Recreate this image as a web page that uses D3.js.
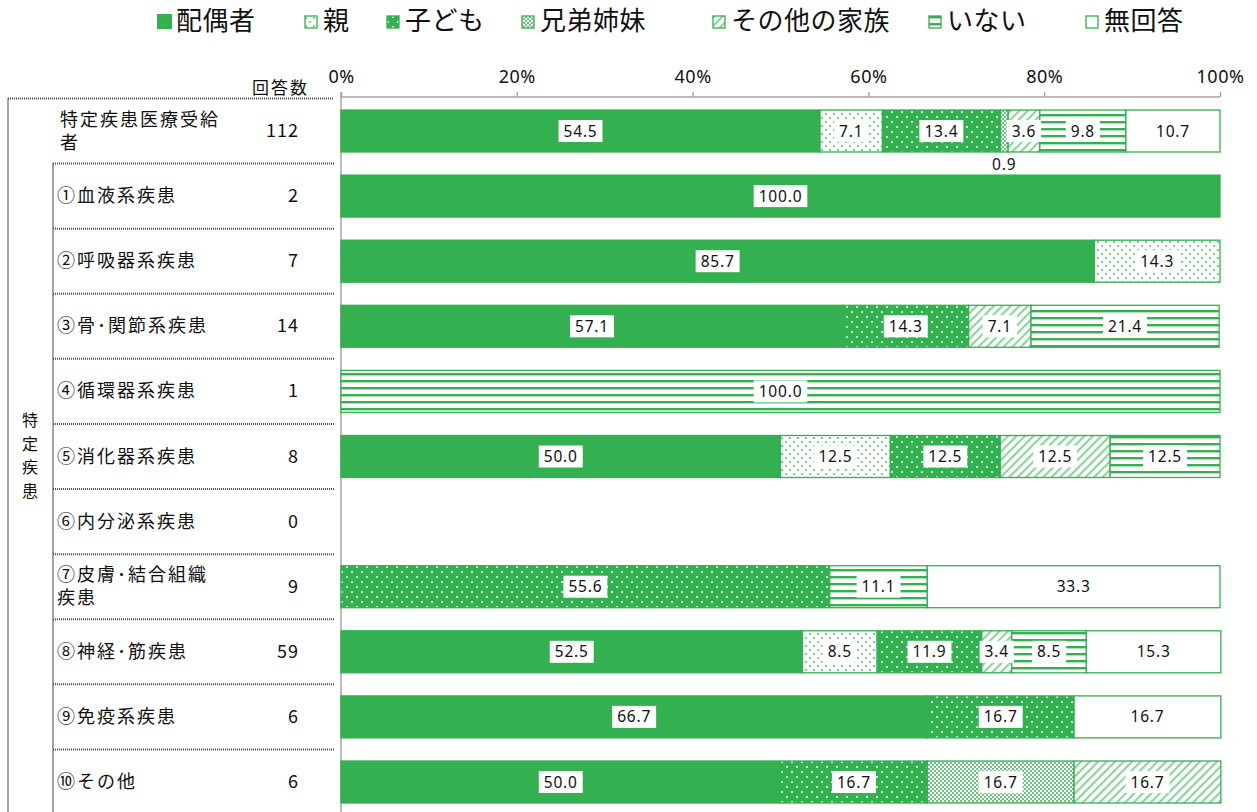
<!DOCTYPE html>
<html>
<head>
<meta charset="utf-8">
<script src="https://cdn.jsdelivr.net/npm/d3@7"></script>
<style>
  body { margin: 0; background: #ffffff; }
  svg text { font-family: "Noto Sans CJK JP", "Noto Sans", sans-serif; fill: #111; }
  .val { font-family: "Noto Sans", "DejaVu Sans", sans-serif; font-size: 15.5px; letter-spacing: 0.8px; }
  .tick-lbl { font-family: "Noto Sans", "DejaVu Sans", sans-serif; font-size: 18px; letter-spacing: 0.5px; }
</style>
</head>
<body>
<div id="chart"></div>
<script>
// カテゴリ（行）
var categories = ["特定疾患医療受給者", "①血液系疾患", "②呼吸器系疾患", "③骨・関節系疾患", "④循環器系疾患",
    "⑤消化器系疾患", "⑥内分泌系疾患", "⑦皮膚・結合組織疾患", "⑧神経・筋疾患", "⑨免疫系疾患", "⑩その他"];
// 表示用のラベル（改行つき）
var categoryLines = [["特定疾患医療受給", "者"], ["①血液系疾患"], ["②呼吸器系疾患"], ["③骨･関節系疾患"], ["④循環器系疾患"],
    ["⑤消化器系疾患"], ["⑥内分泌系疾患"], ["⑦皮膚･結合組織", "疾患"], ["⑧神経･筋疾患"], ["⑨免疫系疾患"], ["⑩その他"]];
var counts = [112, 2, 7, 14, 1, 8, 0, 9, 59, 6, 6];

var seriesNames = ["配偶者", "親", "子ども", "兄弟姉妹", "その他の家族", "いない", "無回答"];
var haigusha  = [54.5, 100.0, 85.7, 57.1, 0, 50.0, 0, 0, 52.5, 66.7, 50.0];
var oya       = [7.1, 0, 14.3, 0, 0, 12.5, 0, 0, 8.5, 0, 0];
var kodomo    = [13.4, 0, 0, 14.3, 0, 12.5, 0, 55.6, 11.9, 16.7, 16.7];
var kyodai    = [0.9, 0, 0, 0, 0, 0, 0, 0, 0, 0, 16.7];
var sonota    = [3.6, 0, 0, 7.1, 0, 12.5, 0, 0, 3.4, 0, 16.7];
var inai      = [9.8, 0, 0, 21.4, 100.0, 12.5, 0, 11.1, 8.5, 0, 0];
var mukaito   = [10.7, 0, 0, 0, 0, 0, 0, 33.3, 15.3, 16.7, 0];

var xTicks = [0, 20, 40, 60, 80, 100];
var groupLabel = "特定疾患";

var seriesData = [haigusha, oya, kodomo, kyodai, sonota, inai, mukaito];

var width = 1257, height = 812;
var green = "#33b050";

var svg = d3.select("#chart").append("svg")
    .attr("width", width)
    .attr("height", height);

// パターン定義
var defs = svg.append("defs");
function pat(id, w, h) {
    return defs.append("pattern").attr("id", id)
        .attr("patternUnits", "userSpaceOnUse")
        .attr("width", w).attr("height", h);
}
var p;
p = pat("p-oya", 8, 8);
p.append("rect").attr("width", 8).attr("height", 8).attr("fill", "#fff");
p.append("rect").attr("x", 1).attr("y", 1).attr("width", 2).attr("height", 2).attr("fill", "#7fcf92");
p.append("rect").attr("x", 5).attr("y", 5).attr("width", 2).attr("height", 2).attr("fill", "#7fcf92");

p = pat("p-kodomo", 10, 10);
p.append("rect").attr("width", 10).attr("height", 10).attr("fill", green);
p.append("rect").attr("x", 1).attr("y", 1).attr("width", 2).attr("height", 2).attr("fill", "#c9eccf");
p.append("rect").attr("x", 6).attr("y", 6).attr("width", 2).attr("height", 2).attr("fill", "#c9eccf");

p = pat("p-kyodai", 4, 4);
p.append("rect").attr("width", 4).attr("height", 4).attr("fill", "#fff");
p.append("rect").attr("width", 2).attr("height", 2).attr("fill", "#6cc381");
p.append("rect").attr("x", 2).attr("y", 2).attr("width", 2).attr("height", 2).attr("fill", "#6cc381");

p = pat("p-sonota", 6, 6).attr("patternTransform", "rotate(45)");
p.append("rect").attr("width", 6).attr("height", 6).attr("fill", "#fff");
p.append("rect").attr("width", 2.2).attr("height", 6).attr("fill", "#8fd3a0");

p = pat("p-inai", 8, 7);
p.append("rect").attr("width", 8).attr("height", 7).attr("fill", "#fff");
p.append("rect").attr("y", 2).attr("width", 8).attr("height", 2.4).attr("fill", green);

var fills = [green, "url(#p-oya)", "url(#p-kodomo)", "url(#p-kyodai)", "url(#p-sonota)", "url(#p-inai)", "#fff"];

// スケール
var x = d3.scaleLinear().domain([0, 100]).range([341, 1220]);
var y = d3.scaleBand().domain(categories).range([98.45, 814.55])
    .paddingInner(0.355).paddingOuter(0.1775);

// 積み上げ
var rows = categories.map(function(c, i) {
    var o = {cat: c};
    seriesNames.forEach(function(s, j) { o[s] = seriesData[j][i]; });
    return o;
});
var stacked = d3.stack().keys(seriesNames)(rows);

// 左の表（点線）
var tbl = svg.append("g").attr("stroke", "#4d4d4d").attr("stroke-width", 2)
    .attr("stroke-dasharray", "1,1").attr("fill", "none");
var step = y.step();
var top0 = y.range()[0];
tbl.append("line").attr("x1", 8).attr("x2", 334).attr("y1", top0).attr("y2", top0);
tbl.append("line").attr("x1", 8).attr("x2", 8).attr("y1", top0).attr("y2", height);
tbl.append("line").attr("x1", 53).attr("x2", 53).attr("y1", top0 + step).attr("y2", height);
for (var i = 1; i < categories.length; i++) {
    tbl.append("line").attr("x1", 53).attr("x2", 334)
        .attr("y1", top0 + step * i).attr("y2", top0 + step * i);
}

// カテゴリ名
categories.forEach(function(c, i) {
    var lines = categoryLines[i];
    var cy = y(c) + y.bandwidth() / 2;
    lines.forEach(function(l, k) {
        svg.append("text").attr("font-size", 18).attr("letter-spacing", 2)
            .attr("x", i === 0 ? 60 : 57)
            .attr("y", cy + 6 + (k - (lines.length - 1) / 2) * 23)
            .text(l);
    });
    svg.append("text").attr("font-size", 18).attr("text-anchor", "end")
        .attr("letter-spacing", 1)
        .attr("x", 299).attr("y", cy + 6)
        .attr("font-family", "'Noto Sans', sans-serif")
        .text(counts[i]);
});
svg.append("text").attr("font-size", 17).attr("letter-spacing", 2).attr("x", 252).attr("y", 94).text("回答数");

// 縦書きのグループ名
var gy = y(categories[5]) + y.bandwidth() / 2;
groupLabel.split("").forEach(function(ch, k) {
    svg.append("text").attr("font-size", 16).attr("text-anchor", "middle")
        .attr("x", 30).attr("y", gy + 5 + (k - 1.5) * 23.5).text(ch);
});

// 軸
var axisG = svg.append("g").attr("transform", "translate(0,97)");
axisG.call(d3.axisTop(x).tickValues(xTicks).tickSize(5).tickFormat(function(d) { return d + "%"; }));
axisG.selectAll("path, line").attr("stroke", "#a6a6a6").attr("stroke-width", 1.5);
axisG.select(".domain").attr("d", "M341,0H1220");
axisG.selectAll("text").attr("class", "tick-lbl").attr("fill", "#222").attr("y", -14);
svg.append("line").attr("x1", 341).attr("x2", 341).attr("y1", 92).attr("y2", height)
    .attr("stroke", "#a6a6a6").attr("stroke-width", 1.5);

// 棒
var layers = svg.selectAll(".layer").data(stacked).enter().append("g")
    .attr("class", "layer")
    .attr("fill", function(d, i) { return fills[i]; });

layers.selectAll("rect").data(function(d) { return d; }).enter()
    .filter(function(d) { return d[1] - d[0] > 0; })
    .append("rect")
    .attr("x", function(d) { return x(d[0]); })
    .attr("y", function(d) { return y(d.data.cat); })
    .attr("width", function(d) { return x(d[1]) - x(d[0]); })
    .attr("height", y.bandwidth())
    .attr("stroke", green)
    .attr("stroke-width", 1.3);

// 値ラベル
stacked.forEach(function(layer) {
    layer.forEach(function(d) {
        var v = d[1] - d[0];
        if (v <= 0) return;
        var cx = (x(d[0]) + x(d[1])) / 2;
        var cy = y(d.data.cat) + y.bandwidth() / 2;
        var label = v.toFixed(1);
        if (v < 2) {
            svg.append("text").attr("class", "val").attr("text-anchor", "middle")
                .attr("x", cx).attr("y", y(d.data.cat) + y.bandwidth() + 18).text(label);
            return;
        }
        var g = svg.append("g");
        var t = g.append("text").attr("class", "val").attr("text-anchor", "middle")
            .attr("x", cx).attr("y", cy + 5.5).text(label);
        var w = t.node().getComputedTextLength() + 10;
        g.insert("rect", "text").attr("x", cx - w / 2).attr("y", cy - 11)
            .attr("width", w).attr("height", 22).attr("fill", "#fff");
    });
});

// 凡例
var legendX = [157, 304, 386, 521, 712, 928, 1085];
var lg = svg.append("g");
seriesNames.forEach(function(s, i) {
    var g = lg.append("g").attr("transform", "translate(" + legendX[i] + ",0)");
    if (i === 0) {
        g.append("rect").attr("x", 0).attr("y", 14).attr("width", 15).attr("height", 15).attr("fill", green);
    } else {
        g.append("rect").attr("x", 1).attr("y", 16).attr("width", 12).attr("height", 12)
            .attr("fill", fills[i]).attr("stroke", green).attr("stroke-width", 1.3);
    }
    g.append("text").attr("x", 19).attr("y", 30).attr("font-size", 26).attr("letter-spacing", 0.5).text(s);
});
</script>
</body>
</html>
